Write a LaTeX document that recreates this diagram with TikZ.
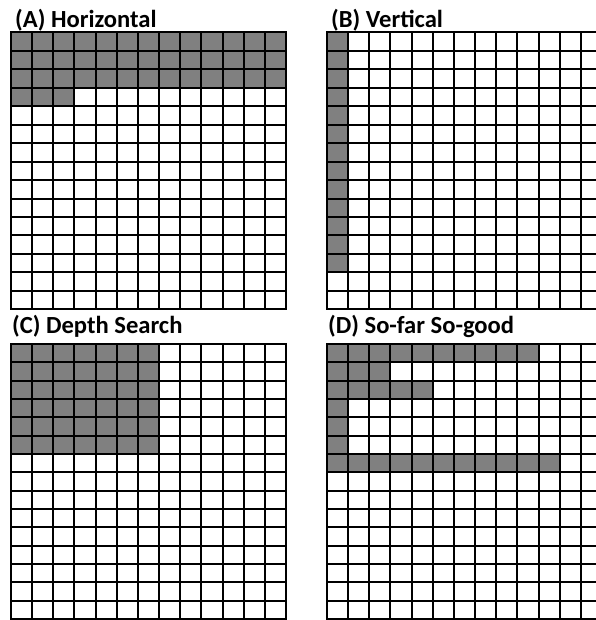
\documentclass[tikz,border=0pt]{standalone}
\usepackage{fontspec}
\setmainfont{Carlito}
\usetikzlibrary{positioning}

\tikzset{
  gridline/.style={line width=2pt, black, line cap=rect},
  taken/.style={fill=gray},
  paneltitle/.style={inner sep=0pt, anchor=base west, font=\fontsize{24.6pt}{29pt}\selectfont\bfseries},
}

% 13 columns x 15 rows, drawn from the top-left corner downwards
\newcommand{\cellgrid}{%
  \foreach \i in {0,...,13} \draw[gridline] (\i,0) -- (\i,15);
  \foreach \j in {0,...,15} \draw[gridline] (0,\j) -- (13,\j);
}

\begin{document}
\begin{tikzpicture}[x=1pt, y=1pt]
  \useasboundingbox (0,0) rectangle (595,620);
  % (A) Horizontal
  \begin{scope}[shift={(11,587.7)}, x=21.15pt, y=-18.47pt]
    \fill[taken] (0,0) rectangle (13,3);
    \fill[taken] (0,3) rectangle (3,4);
    \cellgrid
  \end{scope}
  \node[paneltitle] (titleA) at (15,592.5) {(A) Horizontal};
  % (B) Vertical
  \begin{scope}[shift={(327,587.7)}, x=21.15pt, y=-18.47pt]
    \fill[taken] (0,0) rectangle (1,13);
    \cellgrid
  \end{scope}
  \node[paneltitle] (titleB) at (331,592.5) {(B) Vertical};
  % (C) Depth Search
  \begin{scope}[shift={(11,276)}, x=21.15pt, y=-18.33pt]
    \fill[taken] (0,0) rectangle (7,6);
    \cellgrid
  \end{scope}
  \node[paneltitle] (titleC) at (12,286.5) {(C) Depth Search};
  % (D) So-far So-good
  \begin{scope}[shift={(327,276)}, x=21.15pt, y=-18.33pt]
    \fill[taken] (0,0) rectangle (10,1);
    \fill[taken] (0,1) rectangle (3,2);
    \fill[taken] (0,2) rectangle (5,3);
    \fill[taken] (0,3) rectangle (1,6);
    \fill[taken] (0,6) rectangle (11,7);
    \cellgrid
  \end{scope}
  \node[paneltitle] (titleD) at (328,286.5) {(D) So-far So-good};
\end{tikzpicture}
\end{document}
